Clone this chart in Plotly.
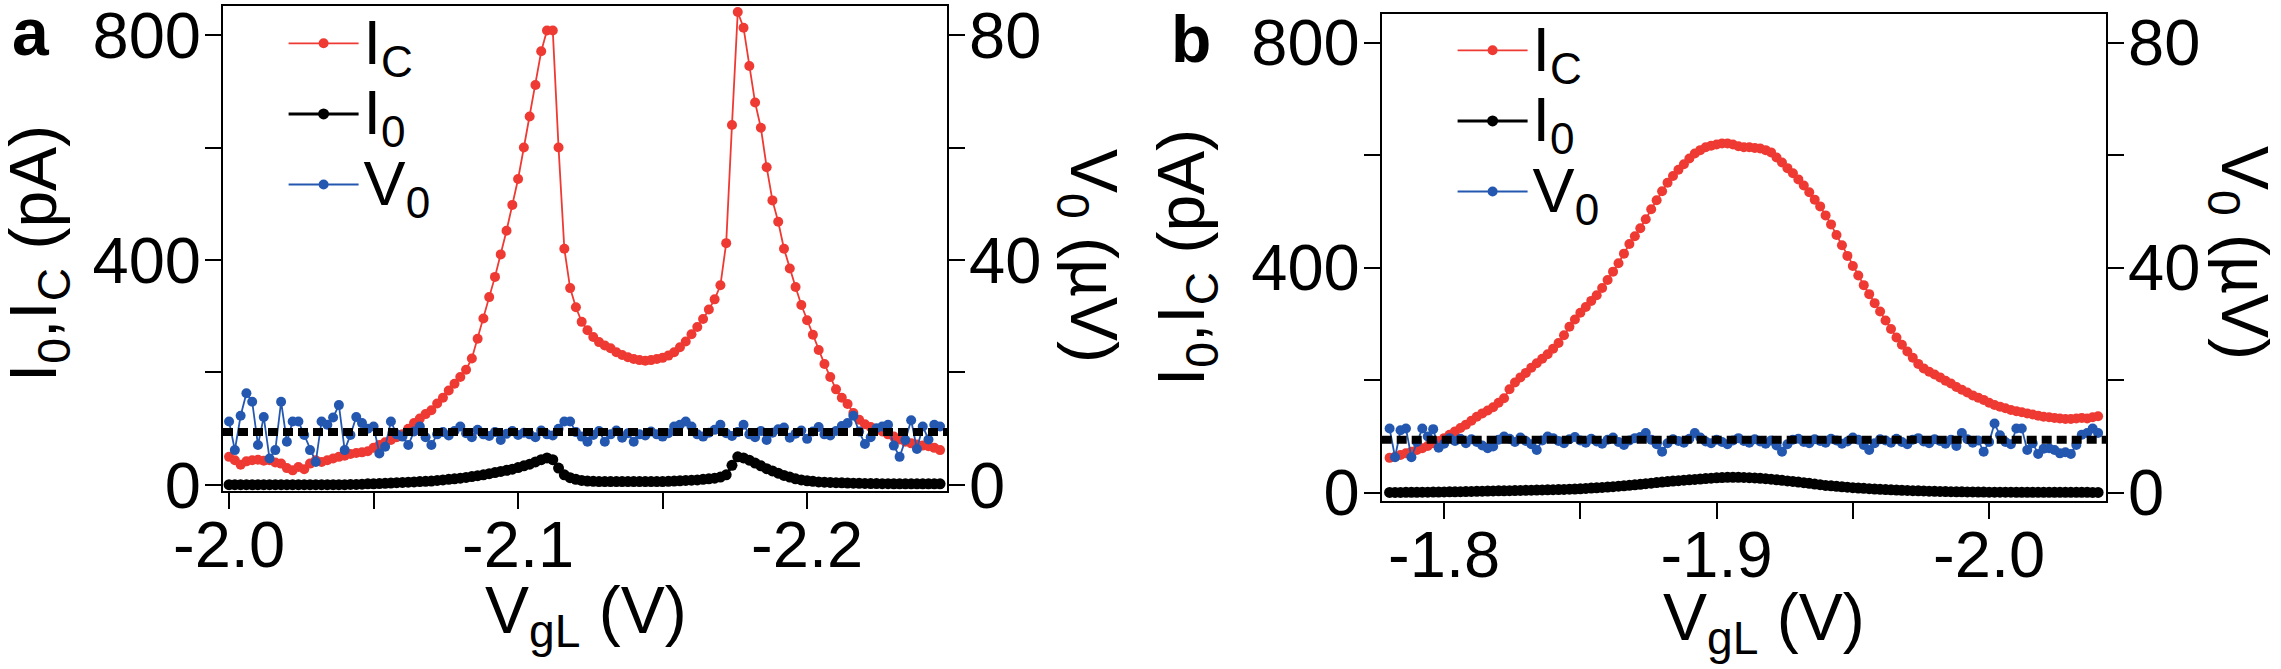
import numpy as np
import plotly.graph_objects as go

W, H = 2281, 669
FONT = "Arial, 'Liberation Sans', Helvetica, sans-serif"
RED = "#EE3A33"
BLUE = "#2458B0"
BLACK = "#000000"

# ---------------- panel a data (gate sweep, V) ----------------
A_V_START = -2.000
A_V_STEP = -0.002
A_IC = [50, 44, 36, 42, 44, 45, 43, 44, 40, 38, 30, 26, 32, 28, 38, 44, 41, 44, 47, 50,
        52, 55, 57, 58, 60, 66, 71, 76, 80, 85, 90, 100, 110, 118, 126, 133, 145, 155, 168, 180,
        192, 205, 225, 260, 296, 334, 370, 410, 452, 498, 544, 600, 655, 711, 771, 808, 808, 600, 420, 350,
        316, 290, 275, 263, 254, 248, 243, 236, 231, 227, 224, 222, 221, 222, 224, 226, 230, 236, 245, 255,
        268, 281, 295, 312, 330, 355, 430, 640, 841, 813, 745, 680, 635, 565, 506, 468, 420, 385, 352, 320,
        293, 267, 240, 215, 192, 170, 155, 144, 128, 116, 108, 103, 99, 95, 90, 86, 81, 77, 74, 72,
        70, 69, 66, 62]
A_I0 = [0.5] * 21 + [1, 1, 1.5, 2, 2, 2.5, 3, 3.5, 4, 4.5, 5, 5.5, 6, 6.5, 7, 8, 9, 10, 11, 12,
        13.5, 15, 16.5, 18, 20, 22, 24, 26, 28, 31, 34, 37, 41, 45, 48, 45, 30, 18, 13, 10,
        8, 7, 6.5] + [6] * 12 + [6.5, 7, 7.5, 8, 8.5, 9, 10, 11, 12, 14, 18, 35, 50, 48, 44, 39, 34, 29, 25, 21,
        17, 14, 11, 9, 7.5, 6.5, 5.5, 5, 4.5, 4, 3.8, 3.5, 3.2, 3,
        2.8, 2.6, 2.5, 2.4, 2.3, 2.2, 2.1, 2, 2, 2, 2, 2, 2, 2]
A_V0 = [11.3, 6.2, 12.3, 16.3, 14.8, 7.1, 12.1, 4.7, 6.2, 14.8, 7.7, 11.3, 11.3, 8.9, 6.2, 4.1, 11.3, 10.7, 12.0, 14.2,
        6.2, 8.9, 12.1, 11.0, 10.0, 10.4, 5.6, 6.8, 11.3, 9.0, 8.6, 7.1, 9.5, 10.4, 8.5, 7.1, 9.0,
        9.4, 8.8, 9.6, 10.4, 9.2, 8.5, 9.8, 9.0, 8.7, 9.4, 8.0, 9.1, 9.6, 8.9, 9.3, 9.0, 8.5, 9.7, 9.0, 8.8, 10.0,
        11.3, 11.3, 9.4, 8.6, 7.7, 8.9, 9.6, 7.7, 9.0, 9.7, 8.4, 9.2, 7.7, 9.0, 8.8, 9.5, 9.0, 8.6, 9.2, 10.4,
        10.7, 11.3, 10.4, 9.0, 8.6, 9.3, 9.8, 10.7, 9.2, 8.7, 9.4, 10.7, 9.0, 8.5, 9.6, 8.0, 9.3, 9.9, 10.2, 8.4,
        9.1, 9.7, 8.2, 9.5, 10.3, 9.0, 8.8, 9.6, 10.5, 11.0, 12.3, 9.5, 7.3, 8.5, 10.1, 10.4, 10.7, 7.0, 5.0, 8.0,
        11.5, 6.4, 10.4, 8.1, 10.7, 10.4]
A_V0_LEVEL = 9.4  # uV, dashed reference line

# ---------------- panel b data ----------------
B_V_START = -1.780
B_V_STEP = -0.002
B_IC = [62, 64, 67, 70, 73, 76, 79, 83, 88, 92, 97, 103, 109, 115, 121, 128, 135, 141, 146, 152,
        160, 168, 184, 196, 205, 213, 222, 230, 238, 246, 256, 266, 280, 295, 308, 320, 330, 341, 351, 364,
        378, 393, 408, 425, 442, 456, 470, 486, 504, 520, 536, 551, 563, 574, 584, 594, 603, 609, 614, 617,
        619, 621, 621, 619, 616, 614, 614, 613, 612, 609, 605, 596, 587, 577, 568, 557, 546, 534, 521, 509,
        493, 477, 458, 440, 421, 403, 386, 369, 353, 337, 322, 306, 291, 276, 263, 251, 240, 229, 221, 215,
        210, 205, 199, 194, 188, 183, 178, 173, 169, 165, 160, 156, 153, 150, 147, 145, 143, 141, 139, 137,
        135, 134, 133, 132, 131, 131, 132, 133, 132, 134, 136]
B_I0 = [0.5, 0.5, 0.5, 0.6, 0.7, 0.8, 0.9, 1.0, 1.1, 1.2, 1.3,
        1.5, 1.7, 1.9, 2.1, 2.3, 2.5, 2.7, 2.9, 3.1, 3.3, 3.5, 3.7, 3.9, 4.1, 4.3, 4.5, 4.7, 4.9, 5.1, 5.3,
        5.6, 5.9, 6.2, 6.6, 7.0, 7.6, 8.2, 8.8, 9.4, 10.0, 10.8, 11.6, 12.4, 13.2, 14.0,
        15, 16, 17, 18, 19, 19.8, 20.6, 21.4, 22.2, 23, 23.7, 24.4, 25.1, 25.8, 26.5,
        27, 27.3, 27.5, 27.4, 27.1, 26.7, 26.2, 25.6, 24.9, 24, 23, 22, 21, 20, 19,
        17.8, 16.6, 15.4, 14.2, 13, 12.2, 11.4, 10.6, 9.8, 9, 8.4, 7.8, 7.2, 6.6, 6,
        5.6, 5.2, 4.8, 4.4, 4, 3.7, 3.4, 3.1, 2.8, 2.5, 2.3, 2.1, 1.9, 1.7, 1.5,
        1.4, 1.3, 1.2, 1.1, 1.0,
        1.0, 0.9, 0.9, 0.9, 0.8, 0.8, 0.8, 0.8, 0.7, 0.7, 0.7, 0.7, 0.7, 0.6, 0.6, 0.6, 0.6, 0.6, 0.5, 0.5]
B_V0 = [11.4, 6.3, 11.1, 11.4, 6.3, 9.0, 11.4, 10.0, 11.3, 8.0, 8.7,
        9.7, 9.2, 9.6, 8.8, 9.5, 9.0, 8.4, 7.9, 8.2, 9.4, 10.0, 9.6, 9.0, 9.8, 9.2, 8.6, 7.6, 9.3, 10.0, 9.7,
        9.2, 8.8, 9.5, 9.9, 9.3, 8.9, 9.6, 9.1, 8.7, 9.4, 9.8, 9.0, 8.5, 9.3, 9.7, 9.9, 10.6, 9.4, 8.6, 7.3,
        8.8, 9.5, 9.2, 8.9, 9.6, 10.6, 9.8, 9.1, 8.8, 9.4, 9.0, 8.6, 9.3, 9.7, 9.2, 8.9, 9.5, 9.1, 8.7, 9.3,
        8.4, 7.3, 8.6, 9.4, 9.6, 9.0, 8.8, 9.5, 9.2, 8.9, 9.6, 9.3, 8.7, 9.1, 9.8, 9.4, 8.5, 7.6, 8.8, 9.5,
        9.3, 8.9, 9.6, 9.0, 8.6, 9.4, 9.7, 9.1, 8.8, 9.5, 9.2, 8.7, 9.4, 8.3, 10.6, 9.5, 8.9, 9.3, 7.3, 9.0,
        12.3, 10.2, 9.0, 8.6, 11.4, 11.4, 7.6, 8.8, 6.9, 7.8, 7.9, 7.6, 7.0, 7.2, 6.9, 8.5, 10.3, 10.6, 11.4, 10.6]
B_V0_LEVEL = 9.4

# axis settings
A_XRANGE = [-1.9979, -2.2484]
B_XRANGE = [-1.7771, -2.0429]
A_YRANGE = [-10.7, 851.6]
B_YRANGE = [-14.2, 851.0]
A_XTICKS = [-2.0, -2.05, -2.1, -2.15, -2.2]
A_XTEXT = ["-2.0", "", "-2.1", "", "-2.2"]
B_XTICKS = [-1.8, -1.85, -1.9, -1.95, -2.0]
B_XTEXT = ["-1.8", "", "-1.9", "", "-2.0"]
I_TICKS = [0, 200, 400, 600, 800]
I_TEXT = ["0", "", "400", "", "800"]
V_TICKS = [0, 20, 40, 60, 80]
V_TEXT = ["0", "", "40", "", "80"]


def sweep(start, step, vals):
    return start + step * np.arange(len(vals))


def px(x):
    return x / W


def py(y):
    return 1 - y / H


def legname(base, sub):
    return f'<span style="font-size:63px">{base}<sub>{sub}</sub></span>'


fig = go.Figure()

panels = [
    dict(start=A_V_START, step=A_V_STEP, ic=A_IC, i0=A_I0, v0=A_V0, xa="x", ya="y", yv="y2", leg="legend"),
    dict(start=B_V_START, step=B_V_STEP, ic=B_IC, i0=B_I0, v0=B_V0, xa="x2", ya="y3", yv="y4", leg="legend2"),
]
for p in panels:
    fig.add_trace(go.Scatter(x=sweep(p["start"], p["step"], p["ic"]), y=p["ic"], xaxis=p["xa"], yaxis=p["ya"],
                             mode="lines+markers", name=legname("I", "C"), legend=p["leg"],
                             line=dict(color=RED, width=1.8), marker=dict(color=RED, size=10)))
    fig.add_trace(go.Scatter(x=sweep(p["start"], p["step"], p["i0"]), y=p["i0"], xaxis=p["xa"], yaxis=p["ya"],
                             mode="lines+markers", name=legname("I", "0"), legend=p["leg"],
                             line=dict(color=BLACK, width=3), marker=dict(color=BLACK, size=11)))
    fig.add_trace(go.Scatter(x=sweep(p["start"], p["step"], p["v0"]), y=p["v0"], xaxis=p["xa"], yaxis=p["yv"],
                             mode="lines+markers", name=legname("V", "0"), legend=p["leg"],
                             line=dict(color=BLUE, width=1.8), marker=dict(color=BLUE, size=10)))

# dashed V0 reference levels
for xa, yv, lev in [("x", "y2", A_V0_LEVEL), ("x2", "y4", B_V0_LEVEL)]:
    fig.add_shape(type="line", xref=f"{xa} domain", x0=0, x1=1, yref=yv, y0=lev, y1=lev,
                  line=dict(color=BLACK, width=8, dash="10px,5px"), layer="above")

tickfont = dict(family=FONT, size=65, color=BLACK)
common_axis = dict(showline=True, linewidth=2, linecolor=BLACK, ticks="outside", ticklen=16, tickwidth=2,
                   tickcolor=BLACK, showgrid=False, zeroline=False, tickfont=tickfont, automargin=False,
                   ticklabeloverflow="allow")
xstand = dict(ticklabelstandoff=-20)
ystand = dict(ticklabelstandoff=-9)

fig.update_layout(
    template="none",
    width=W, height=H, margin=dict(l=0, r=0, t=0, b=0, pad=0, autoexpand=False),
    paper_bgcolor="white", plot_bgcolor="white",
    font=dict(family=FONT, color=BLACK),
    xaxis=dict(domain=[px(223), px(947)], range=A_XRANGE, anchor="y", mirror=True,
               tickvals=A_XTICKS, ticktext=A_XTEXT, **common_axis, **xstand),
    yaxis=dict(domain=[py(491), py(6)], range=A_YRANGE, anchor="x",
               tickvals=I_TICKS, ticktext=I_TEXT, **common_axis, **ystand),
    yaxis2=dict(overlaying="y", side="right", anchor="x", range=[A_YRANGE[0] / 10, A_YRANGE[1] / 10],
                tickvals=V_TICKS, ticktext=V_TEXT, **common_axis, **ystand),
    xaxis2=dict(domain=[px(1381.7), px(2106)], range=B_XRANGE, anchor="y3", mirror=True,
                tickvals=B_XTICKS, ticktext=B_XTEXT, **common_axis, **xstand),
    yaxis3=dict(domain=[py(500.7), py(14)], range=B_YRANGE, anchor="x2",
                tickvals=I_TICKS, ticktext=I_TEXT, **common_axis, **ystand),
    yaxis4=dict(overlaying="y3", side="right", anchor="x2", range=[B_YRANGE[0] / 10, B_YRANGE[1] / 10],
                tickvals=V_TICKS, ticktext=V_TEXT, **common_axis, **ystand),
    legend=dict(x=px(283.6), y=py(3), xanchor="left", yanchor="top", bgcolor="rgba(0,0,0,0)",
                font=dict(family=FONT, size=52, color=BLACK), itemwidth=70, tracegroupgap=0),
    legend2=dict(x=px(1452.6), y=py(10), xanchor="left", yanchor="top", bgcolor="rgba(0,0,0,0)",
                 font=dict(family=FONT, size=52, color=BLACK), itemwidth=70, tracegroupgap=0),
    showlegend=True,
)

tf = dict(family=FONT, size=66, color=BLACK)
ann = [
    dict(text="I<sub>0</sub>,I<sub>C</sub> (pA)", x=px(38), y=py(254), textangle=-90),
    dict(text="V<sub>0</sub> (µV)", x=px(1089), y=py(256), textangle=90),
    dict(text="V<sub>gL</sub> (V)", x=px(586), y=py(615), textangle=0),
    dict(text="I<sub>0</sub>,I<sub>C</sub> (pA)", x=px(1186), y=py(258), textangle=-90),
    dict(text="V<sub>0</sub> (µV)", x=px(2240), y=py(253), textangle=90),
    dict(text="V<sub>gL</sub> (V)", x=px(1764), y=py(622), textangle=0),
]
for a in ann:
    fig.add_annotation(xref="paper", yref="paper", showarrow=False, xanchor="center", yanchor="middle",
                       font=tf, **a)
for t, x, y in [("a", 31, 32), ("b", 1191, 39)]:
    fig.add_annotation(text=f"<b>{t}</b>", xref="paper", yref="paper", x=px(x), y=py(y), showarrow=False,
                       xanchor="center", yanchor="middle", font=dict(family=FONT, size=66, color=BLACK))

fig.write_html("out.html")
